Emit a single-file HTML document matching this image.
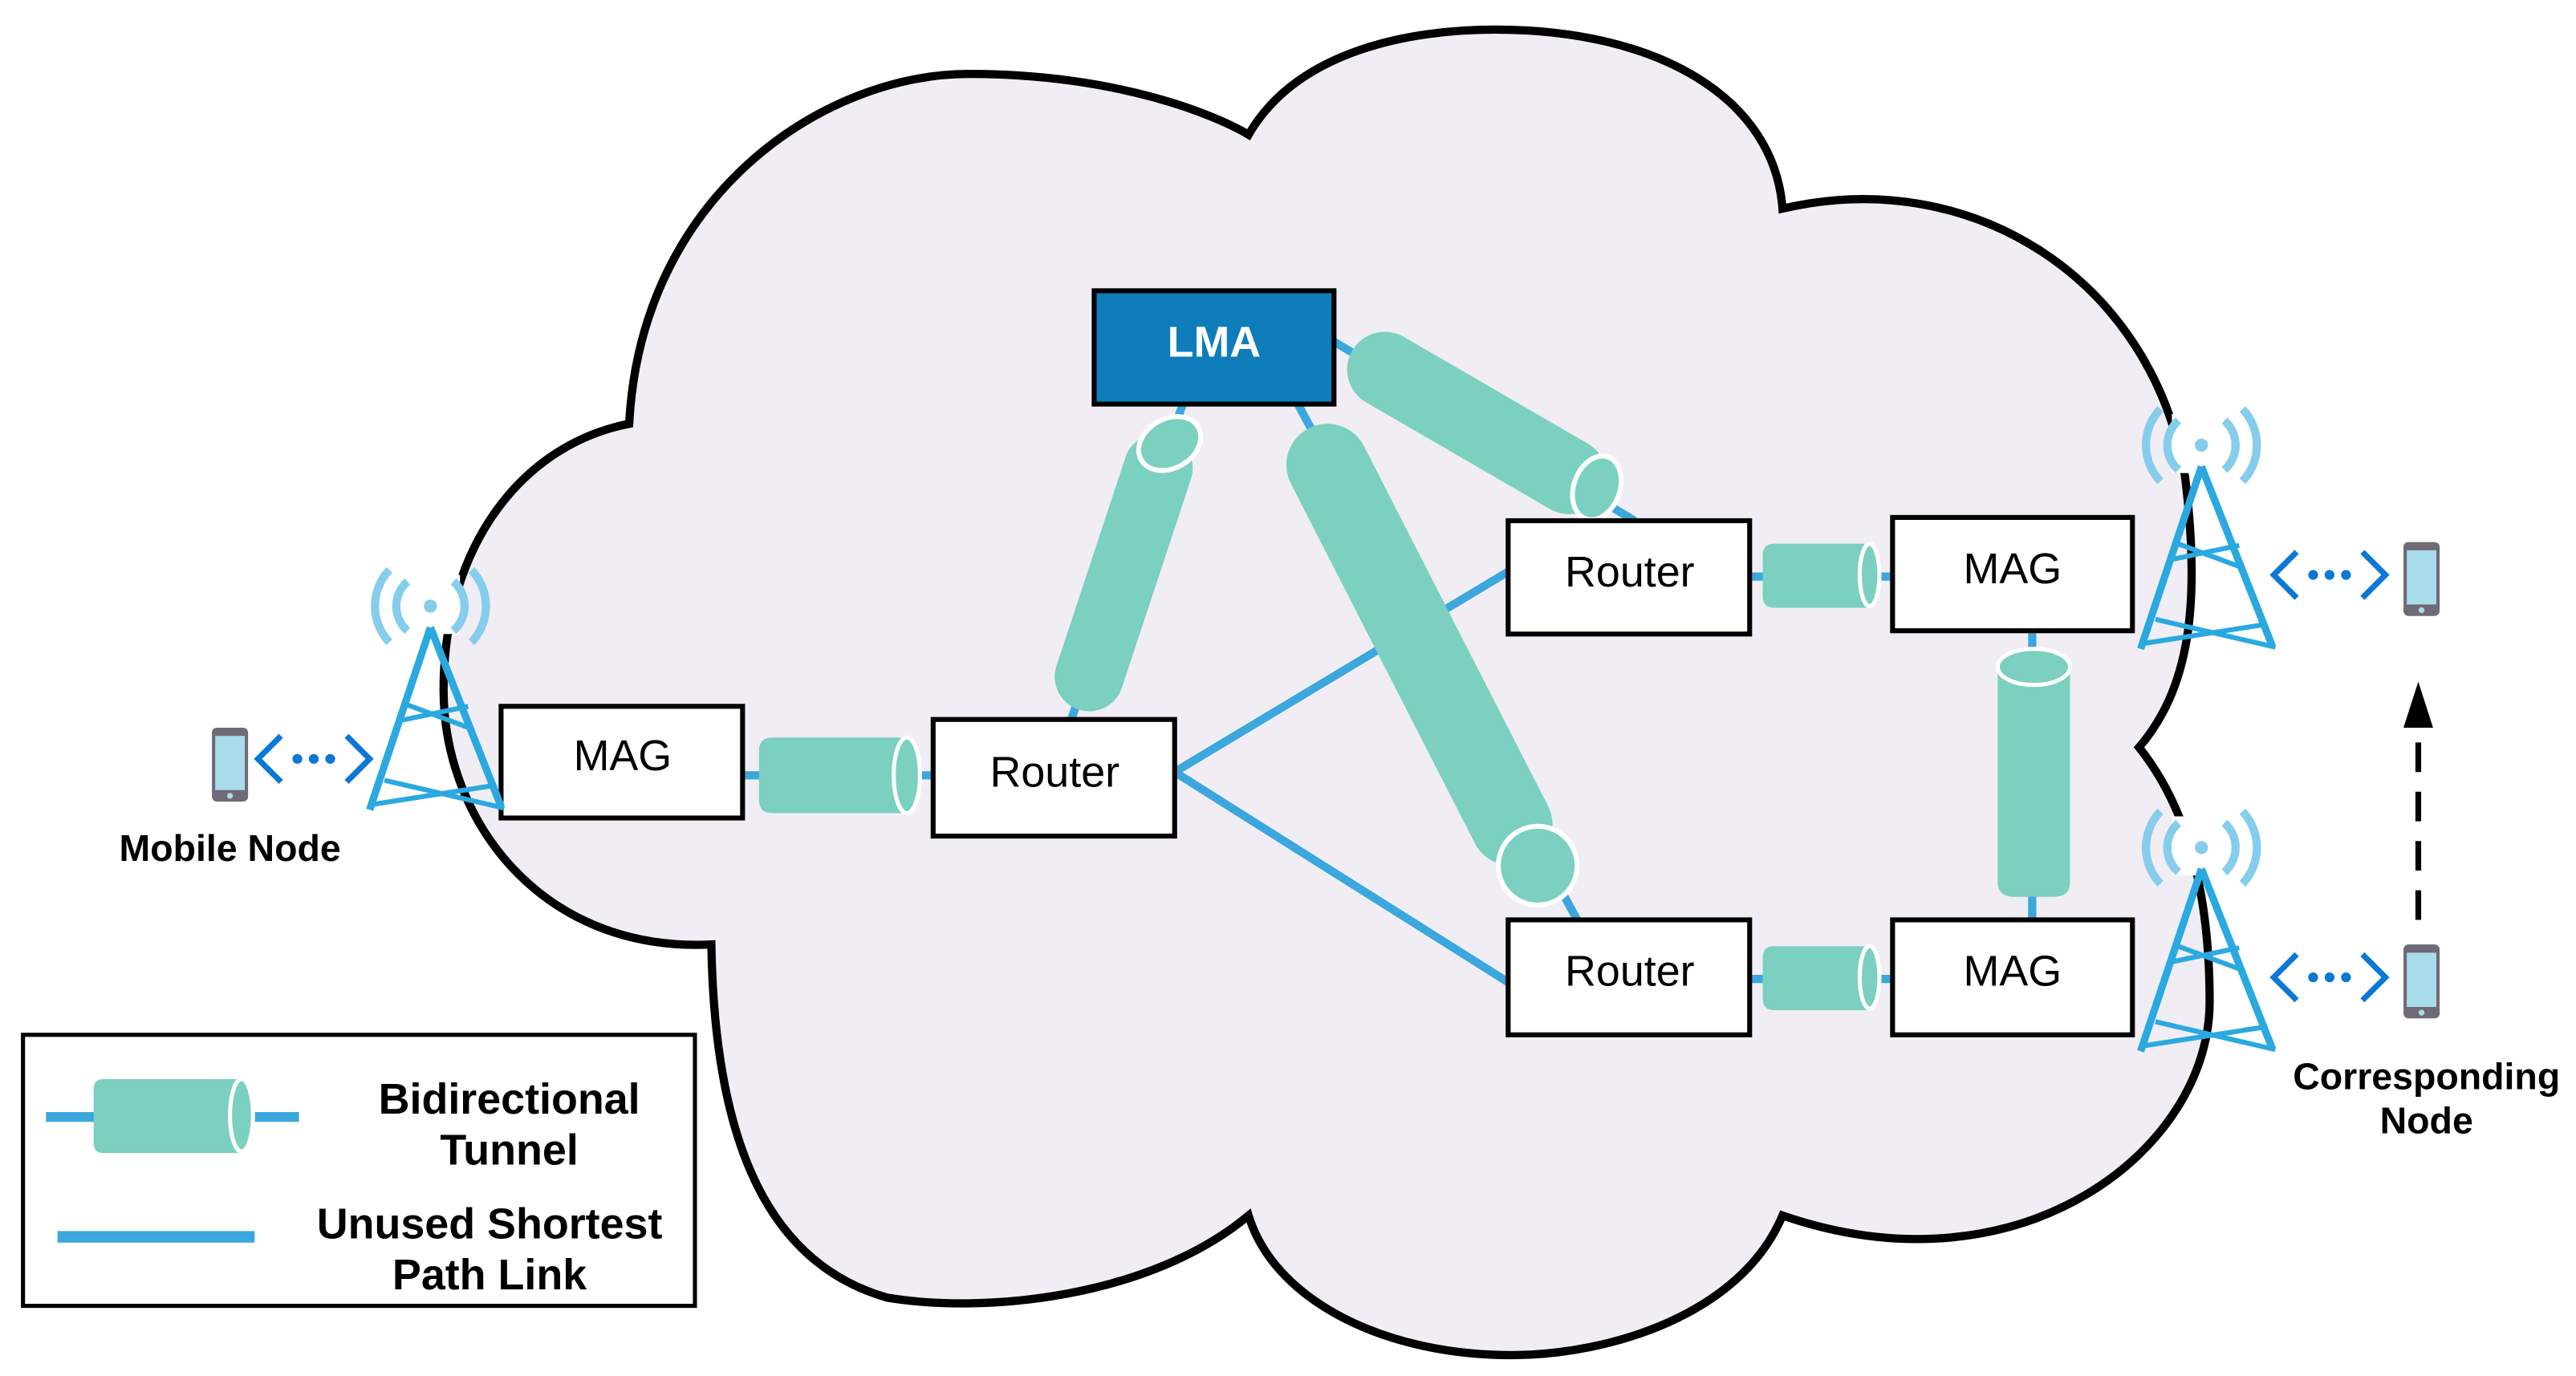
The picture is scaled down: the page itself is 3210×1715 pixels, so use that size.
<!DOCTYPE html>
<html><head><meta charset="utf-8"><style>
html,body{margin:0;padding:0;background:#fff}
svg{display:block}
text{font-family:"Liberation Sans",sans-serif}
</style></head><body>
<svg width="3210" height="1715" viewBox="0 0 1568 837.7" xmlns="http://www.w3.org/2000/svg">
<defs>
<g id="tower">
  <rect x="-18" y="-32" width="36" height="36" fill="#fff"/>
  <path d="M-14,-28 A20,20 0 0 0 -14,2 M14,-28 A20,20 0 0 1 14,2" fill="none" stroke="#85cdec" stroke-width="5"/>
  <path d="M-25,-35 A32,32 0 0 0 -25,9 M25,-35 A32,32 0 0 1 25,9" fill="none" stroke="#85cdec" stroke-width="5"/>
  <circle cx="0" cy="-13" r="4" fill="#85cdec"/>
  <g stroke="#2aa9e0" fill="none">
    <path d="M0,0 L-37,111 M0,0 L43,109" stroke-width="4.5"/>
    <path d="M-20,57 L23,48 M-17,46 L26,62 M-37,108 L40,96 M-28,93 L45,110" stroke-width="3"/>
  </g>
</g>
<g id="phone">
  <rect x="-11" y="-22" width="22" height="45" rx="3" fill="#6f6a75"/>
  <rect x="-9" y="-17" width="18" height="33" fill="#a8dcea"/>
  <circle cx="0" cy="19.5" r="1.8" fill="#a8dcea"/>
</g>
<g id="dots" fill="none" stroke="#0a78d6" stroke-width="3.5">
  <path d="M10,-14 L-4,0 L10,14 M50,-14 L64,0 L50,14"/>
  <circle cx="20" cy="0" r="3" fill="#0a78d6" stroke="none"/>
  <circle cx="30" cy="0" r="3" fill="#0a78d6" stroke="none"/>
  <circle cx="40" cy="0" r="3" fill="#0a78d6" stroke="none"/>
</g>
</defs>

<path d="M383,258 C390,120 500,45 590,45 C680,45 740,70 760,82 C790,30 860,18 910,18 C1010,18 1080,60 1085,127 C1200,100 1310,170 1330,290 C1340,370 1332,420 1302,455 C1330,490 1345,540 1345,610 C1345,700 1230,790 1085,740 C1060,800 980,825 920,825 C840,825 775,790 760,740 C700,790 600,800 540,790 C470,770 435,700 433,575 C330,580 270,500 270,420 C270,330 320,270 383,258 Z" fill="#f1edf4" stroke="#000" stroke-width="5"/>

<g stroke="#3ba7de" stroke-width="5" fill="none">
  <line x1="715" y1="470" x2="918" y2="348"/>
  <line x1="715" y1="470" x2="918" y2="598"/>
  <line x1="452" y1="472" x2="568" y2="472"/>
  <line x1="1065" y1="351" x2="1152" y2="351"/>
  <line x1="1065" y1="596" x2="1152" y2="596"/>
  <line x1="1237" y1="384" x2="1237" y2="560"/>
  <line x1="720" y1="246" x2="652" y2="438"/>
  <line x1="790" y1="246" x2="960" y2="560"/>
  <line x1="812" y1="208" x2="995" y2="317"/>
</g>

<g fill="#7bd0bf">
  <path d="M470,449 H550 V495 H470 Q462,495 462,487 V457 Q462,449 470,449 Z"/>
  <ellipse cx="552" cy="472" rx="8" ry="23" stroke="#fff" stroke-width="2.5"/>
  <path d="M1080,331 H1137 V370 H1080 Q1073,370 1073,363 V338 Q1073,331 1080,331 Z"/>
  <ellipse cx="1138" cy="350" rx="6" ry="19" stroke="#fff" stroke-width="2.5"/>
  <path d="M1080,576 H1137 V615 H1080 Q1073,615 1073,608 V583 Q1073,576 1080,576 Z"/>
  <ellipse cx="1138" cy="595" rx="6" ry="19" stroke="#fff" stroke-width="2.5"/>
  <path d="M1216,406 H1260 V537 Q1260,546 1250,546 H1226 Q1216,546 1216,537 Z"/>
  <ellipse cx="1238" cy="406" rx="22" ry="11" stroke="#fff" stroke-width="2.5"/>
</g>
<g stroke="#7bd0bf" stroke-linecap="round">
  <line x1="705" y1="285" x2="663" y2="412" stroke-width="42"/>
  <line x1="808" y1="283" x2="920" y2="502" stroke-width="50"/>
  <line x1="843" y1="225" x2="955" y2="290" stroke-width="46"/>
</g>
<g fill="#7bd0bf" stroke="#fff" stroke-width="3">
  <ellipse cx="712" cy="270" rx="20" ry="15" transform="rotate(-30 712 270)"/>
  <circle cx="936" cy="527" r="24"/>
  <ellipse cx="972" cy="297" rx="14" ry="20" transform="rotate(20 972 297)"/>
</g>

<g stroke="#000" stroke-width="3">
  <rect x="666" y="177" width="146" height="69" fill="#0e7dba"/>
  <rect x="305" y="430" width="147" height="68" fill="#fff"/>
  <rect x="568" y="438" width="147" height="71" fill="#fff"/>
  <rect x="918" y="317" width="147" height="69" fill="#fff"/>
  <rect x="1152" y="315" width="146" height="69" fill="#fff"/>
  <rect x="918" y="560" width="147" height="70" fill="#fff"/>
  <rect x="1152" y="560" width="146" height="70" fill="#fff"/>
</g>
<g font-size="26.3" text-anchor="middle">
  <text x="739" y="217" fill="#fff" font-weight="bold">LMA</text>
  <text x="379" y="469">MAG</text>
  <text x="642" y="479">Router</text>
  <text x="992" y="357">Router</text>
  <text x="1225" y="355">MAG</text>
  <text x="992" y="600">Router</text>
  <text x="1225" y="600">MAG</text>
</g>

<use href="#tower" x="262" y="382"/>
<use href="#tower" x="1340" y="284"/>
<use href="#tower" x="1340" y="529"/>
<use href="#phone" x="140" y="465"/>
<use href="#phone" x="1474" y="352"/>
<use href="#phone" x="1474" y="597"/>
<use href="#dots" x="161" y="462"/>
<use href="#dots" x="1388" y="350"/>
<use href="#dots" x="1388" y="595"/>

<line x1="1472" y1="560" x2="1472" y2="445" stroke="#000" stroke-width="3.5" stroke-dasharray="18,12"/>
<path d="M1472,415 L1463,443 L1481,443 Z" fill="#000"/>

<g font-size="22.7" font-weight="bold" text-anchor="middle">
  <text x="140" y="524">Mobile Node</text>
  <text x="1477" y="663">Corresponding</text>
  <text x="1477" y="690">Node</text>
</g>

<rect x="14" y="630" width="409" height="165" fill="#fff" stroke="#000" stroke-width="2.5"/>
<line x1="28" y1="680" x2="182" y2="680" stroke="#3ba7de" stroke-width="6"/>
<path d="M63,657 H146 V702 H63 Q57,702 57,696 V663 Q57,657 63,657 Z" fill="#7bd0bf"/>
<ellipse cx="147" cy="679" rx="7" ry="22" fill="#7bd0bf" stroke="#fff" stroke-width="2.5"/>
<line x1="35" y1="753" x2="155" y2="753" stroke="#3ba7de" stroke-width="7"/>
<g font-size="26.3" font-weight="bold" text-anchor="middle">
  <text x="310" y="678">Bidirectional</text>
  <text x="310" y="709">Tunnel</text>
  <text x="298" y="754">Unused Shortest</text>
  <text x="298" y="785">Path Link</text>
</g>
</svg>
</body></html>
